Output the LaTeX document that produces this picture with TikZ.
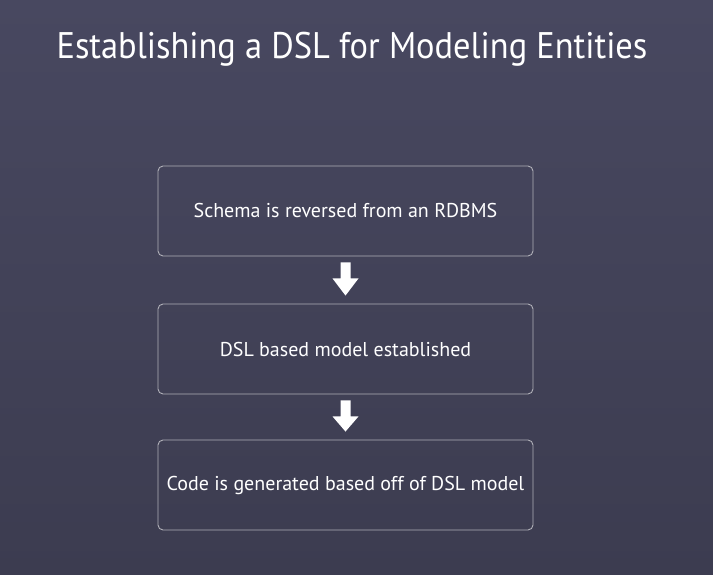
\documentclass[tikz,border=0pt]{standalone}
\usepackage{fontspec}
\setmainfont{PT Sans}
\usetikzlibrary{calc}
\definecolor{bgtop}{RGB}{72,72,96}
\definecolor{bgbot}{RGB}{60,60,80}
\definecolor{boxline}{RGB}{176,176,184}
\tikzset{
  x=1pt,y=1pt,
  stepbox/.style={draw=boxline,line width=0.9pt,rounded corners=5pt,minimum width=375pt,minimum height=90pt,text=white,font=\fontsize{20}{24}\selectfont,inner sep=0pt},
  blockarrow/.style={fill=white,draw=none}
}
\newcommand{\blockarr}[2]{%
  \fill[blockarrow] ($(#1.south)+(-5,-6)$) -- ($(#1.south)+(5,-6)$) -- ($(#1.south)+(5,-22)$) -- ($(#1.south)+(13,-22)$) -- ($(#2.north)+(0,8)$) -- ($(#1.south)+(-13,-22)$) -- ($(#1.south)+(-5,-22)$) -- cycle;}
\begin{document}
\begin{tikzpicture}
\useasboundingbox (0,0) rectangle (713,-575);
\shade[top color=bgtop,bottom color=bgbot] (0,0) rectangle (713,-575);
\node[text=white,font=\fontsize{37}{44}\selectfont,anchor=base,inner sep=0pt] (title) at (352,-59) {\scalebox{0.93}[1]{Establishing a DSL for Modeling Entities}};
\node[stepbox] (s1) at (345.5,-211) {Schema is reversed from an RDBMS};
\node[stepbox] (s2) at (345.5,-349) {DSL based model established};
\node[stepbox] (s3) at (345.5,-485) {Code is generated based off of DSL model};
\blockarr{s1}{s2}
\blockarr{s2}{s3}
\end{tikzpicture}
\end{document}
